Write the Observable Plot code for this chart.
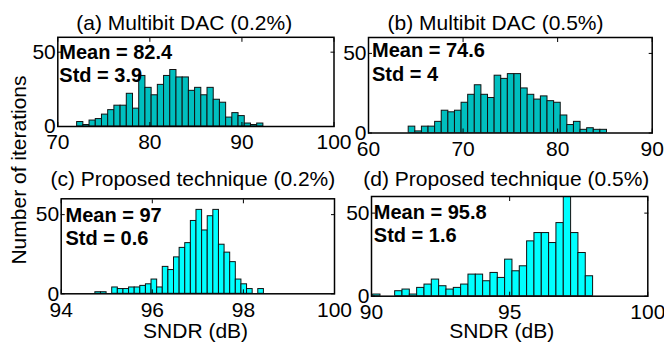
<!DOCTYPE html>
<html><head><meta charset="utf-8">
<script src="https://cdn.jsdelivr.net/npm/d3@7"></script>
<script src="https://cdn.jsdelivr.net/npm/@observablehq/plot@0.6"></script>
<style>
body{margin:0;background:#fff;}
#wrap{position:relative;width:664px;height:342px;overflow:hidden;font-family:"Liberation Sans",Arial,Helvetica,sans-serif;}
#wrap svg{position:absolute;left:0;top:0;}
#ylab{position:absolute;left:18.5px;top:170px;transform:translate(-50%,-50%) rotate(-90deg);font-size:21px;line-height:24px;white-space:nowrap;color:#000;}
</style></head><body><div id="wrap"><div id="ylab">Number of iterations</div></div>
<script>
// ---- data ----
const titles = ["(a) Multibit DAC (0.2%)", "(b) Multibit DAC (0.5%)", "(c) Proposed technique (0.2%)", "(d) Proposed technique (0.5%)"];
const statsA = "Mean = 82.4\nStd = 3.9";
const statsB = "Mean = 74.6\nStd = 4";
const statsC = "Mean = 97\nStd = 0.6";
const statsD = "Mean = 95.8\nStd = 1.6";
const xLabel = "SNDR (dB)";

const countsA = [3,1,4,5,8,11,14,14,22,12,34,26,21,28,34,38,33,33,24,26,21,26,18,16,6,9,7,2,1,2];
const countsB = [4,1,4,4,7,14,13,14,19,24,30,24,22,36,34,37,37,28,24,21,23,20,19,11,5,7,2,3,2,2];
const countsC = [1,1,0,4,3,3,4,4,5,6,9,4,17,15,23,29,32,46,53,40,49,53,31,26,20,9,6,3,0,3];
const countsD = [1,0,0,3,4,1,5,7,10,6,4,5,7,13,13,9,14,11,22,15,18,33,38,38,32,44,70,38,26,12];

const rangeA = [72.1, 92.33];
const rangeB = [64.25, 85.22];
const rangeC = [94.75, 98.45];
const rangeD = [90.06, 98.02];

const domainA = [70, 100], ticksA = [70, 80, 90, 100];
const domainB = [60, 90],  ticksB = [60, 70, 80, 90];
const domainC = [94, 100], ticksC = [94, 96, 98, 100];
const domainD = [90, 100], ticksD = [90, 95, 100];
const yDomain = [0, 60], yTicks = [0, 50];

// ---- layout (frame edges in px: left, top, right, bottom) ----
const panels = [
  {counts: countsA, range: rangeA, domain: domainA, ticks: ticksA, stat: statsA, title: titles[0], fill: "#00BFBF",
   frame: [57.3, 36.8, 333.5, 126], tdx: -11.7, tdy: -7.8, sdx: 1.5, sdy: 5, xlab: false},
  {counts: countsB, range: rangeB, domain: domainB, ticks: ticksB, stat: statsB, title: titles[1], fill: "#00BFBF",
   frame: [368, 37, 651.7, 132.5], tdx: -14.8, tdy: -8, sdx: 3.5, sdy: 3, xlab: false},
  {counts: countsC, range: rangeC, domain: domainC, ticks: ticksC, stat: statsC, title: titles[2], fill: "#00FFFF",
   frame: [60.7, 198.3, 334, 293.3], tdx: -5, tdy: -13.3, sdx: 4.3, sdy: 6.5, xlab: true, xdx: -2.3, xdy: 44},
  {counts: countsD, range: rangeD, domain: domainD, ticks: ticksD, stat: statsD, title: titles[3], fill: "#00FFFF",
   frame: [371, 196, 647.3, 295.7], tdx: -3.3, tdy: -11, sdx: 2.3, sdy: 5.5, xlab: true, xdx: -8, xdy: 41.6}
];

const W = 664, H = 342;
const font = '"Liberation Sans", Arial, Helvetica, sans-serif';
const wrap = document.getElementById("wrap");

for (const p of panels) {
  const n = p.counts.length, w = (p.range[1] - p.range[0]) / n;
  const bins = p.counts.map((c, i) => ({x1: p.range[0] + i * w, x2: p.range[0] + (i + 1) * w, y: c}));
  const [l, t, r, b] = p.frame;
  const marks = [
    Plot.rectY(bins, {x1: "x1", x2: "x2", y: "y", fill: p.fill, stroke: "#111", strokeWidth: 1, clip: true}),
    Plot.axisX(p.ticks, {anchor: "bottom", tickSize: -4, tickPadding: 12, fontSize: 21, label: null}),
    Plot.axisX(p.ticks, {anchor: "top", tickSize: -4, tickFormat: () => "", label: null}),
    Plot.axisY(yTicks, {anchor: "left", tickSize: -4, tickPadding: 6, fontSize: 21, label: null}),
    Plot.axisY(yTicks, {anchor: "right", tickSize: -4, tickFormat: () => "", label: null}),
    Plot.frame({stroke: "#000", strokeWidth: 1.5}),
    Plot.text([p.stat], {frameAnchor: "top-left", textAnchor: "start", lineAnchor: "top", dx: p.sdx, dy: p.sdy,
      fontSize: 20, fontWeight: "bold", lineHeight: 1.17, fill: "#000"}),
    Plot.text([p.title], {frameAnchor: "top", textAnchor: "middle", lineAnchor: "bottom", dx: p.tdx, dy: p.tdy,
      fontSize: 21, fill: "#000"})
  ];
  if (p.xlab) marks.push(Plot.text([xLabel], {frameAnchor: "bottom", textAnchor: "middle", lineAnchor: "bottom",
      dx: p.xdx, dy: p.xdy, fontSize: 21, fill: "#000"}));
  const svg = Plot.plot({
    width: W, height: H,
    marginLeft: l, marginTop: t, marginRight: W - r, marginBottom: H - b,
    style: {background: "transparent", overflow: "visible", fontFamily: font, color: "#000"},
    x: {domain: p.domain},
    y: {domain: yDomain},
    marks
  });
  wrap.appendChild(svg);
}
</script></body></html>
